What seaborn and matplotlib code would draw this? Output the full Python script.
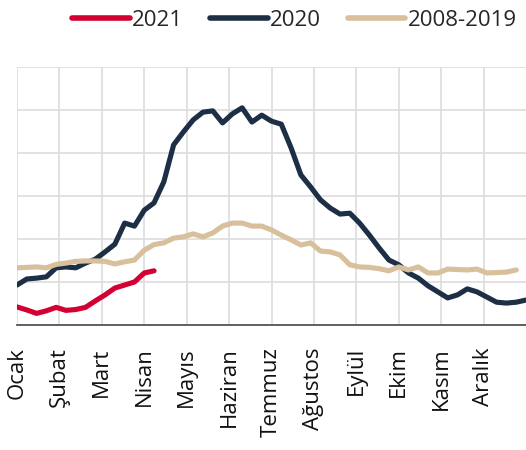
import numpy as np
import pandas as pd
import matplotlib
matplotlib.use('Agg')
import matplotlib.pyplot as plt
import seaborn as sns

months = ['Ocak', 'Şubat', 'Mart', 'Nisan', 'Mayıs', 'Haziran', 'Temmuz',
          'Ağustos', 'Eylül', 'Ekim', 'Kasım', 'Aralık']

# weekly values
y2021 = [0.42, 0.35, 0.27, 0.33, 0.41, 0.34, 0.36, 0.41, 0.56, 0.70, 0.86, 0.93,
         1.00, 1.21, 1.26]
y2020 = [0.93, 1.07, 1.09, 1.12, 1.33, 1.35, 1.33, 1.44, 1.53, 1.70, 1.88, 2.37,
         2.30, 2.67, 2.84, 3.33, 4.19, 4.49, 4.77, 4.95, 4.98, 4.70, 4.91, 5.05,
         4.72, 4.88, 4.74, 4.67, 4.12, 3.49, 3.21, 2.91, 2.72, 2.58, 2.60, 2.37,
         2.09, 1.79, 1.51, 1.40, 1.21, 1.09, 0.91, 0.77, 0.63, 0.70, 0.84, 0.77,
         0.65, 0.53, 0.51, 0.53, 0.58]
y0819 = [1.33, 1.34, 1.35, 1.33, 1.41, 1.44, 1.48, 1.49, 1.49, 1.48, 1.42, 1.47,
         1.51, 1.74, 1.87, 1.91, 2.02, 2.05, 2.12, 2.05, 2.14, 2.30, 2.37, 2.37,
         2.30, 2.30, 2.21, 2.09, 1.98, 1.86, 1.91, 1.72, 1.70, 1.63, 1.40, 1.35,
         1.34, 1.31, 1.26, 1.35, 1.28, 1.35, 1.21, 1.21, 1.30, 1.29, 1.28, 1.30,
         1.21, 1.22, 1.23, 1.28]

series = {'2021': y2021, '2020': y2020, '2008-2019': y0819}
colors = {'2021': '#D50032', '2020': '#1C2F45', '2008-2019': '#D7C09B'}

frames = []
for name, vals in series.items():
    frames.append(pd.DataFrame({'hafta': np.arange(len(vals)), 'deger': vals, 'seri': name}))
df = pd.concat(frames, ignore_index=True)

sns.set_style('white')
plt.rcParams['font.family'] = ['Open Sans', 'DejaVu Sans']

fig = plt.figure(figsize=(5.26, 4.5), dpi=100)
ax = fig.add_axes([17 / 526, 125 / 450, 1 - 17 / 526, 258 / 450])

sns.lineplot(data=df, x='hafta', y='deger', hue='seri', palette=colors,
             hue_order=['2021', '2020', '2008-2019'], linewidth=3.7,
             solid_capstyle='round', solid_joinstyle='round', ax=ax, legend=False)

ax.set_xlim(0, 52)
ax.set_ylim(0, 6)
ax.set_xticks([m * 52 / 12 for m in range(12)])
ax.set_xticklabels(months, rotation=90, ha='center', va='top', fontsize=16, color='#111111')
ax.set_yticks(range(7))
ax.set_yticklabels([])
ax.tick_params(axis='both', length=0)
ax.tick_params(axis='x', pad=16)
ax.grid(True, color='#DDDDDD', linewidth=1.2)
ax.set_axisbelow(True)
ax.set_xlabel('')
ax.set_ylabel('')
for s in ['top', 'right', 'left']:
    ax.spines[s].set_visible(False)
ax.spines['bottom'].set_color('#555555')
ax.spines['bottom'].set_linewidth(1.3)

handles = [plt.Line2D([], [], color=colors[k], linewidth=4, solid_capstyle='round')
           for k in series]
fig.legend(handles, list(series.keys()), loc='center', bbox_to_anchor=(0.56, 0.955),
           ncol=3, frameon=False, fontsize=16, handlelength=2.6, handletextpad=0.1,
           columnspacing=1.2)

fig.savefig('out.png', dpi=100)
